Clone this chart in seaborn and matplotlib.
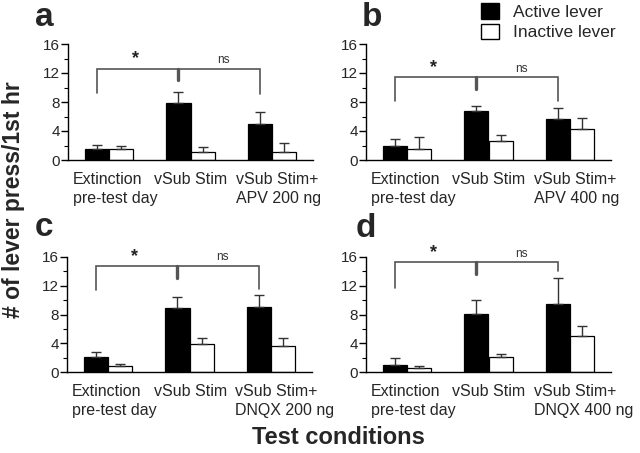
import numpy as np
import pandas as pd
import matplotlib
matplotlib.use('Agg')
import matplotlib.pyplot as plt
import matplotlib.transforms as mtransforms
from matplotlib.patches import Patch
from matplotlib.ticker import MultipleLocator
import seaborn as sns

sns.set_theme(style='ticks')
plt.rcParams['font.family'] = ['Liberation Sans', 'DejaVu Sans']

levers = ['Active lever', 'Inactive lever']

# condition labels per panel
conds_a = ['Extinction\npre-test day', 'vSub Stim', 'vSub Stim+\nAPV 200 ng']
conds_b = ['Extinction\npre-test day', 'vSub Stim', 'vSub Stim+\nAPV 400 ng']
conds_c = ['Extinction\npre-test day', 'vSub Stim', 'vSub Stim+\nDNQX 200 ng']
conds_d = ['Extinction\npre-test day', 'vSub Stim', 'vSub Stim+\nDNQX 400 ng']

# mean lever presses
active_a = [1.5, 7.8, 5.0]
inactive_a = [1.5, 1.15, 1.15]
active_b = [2.0, 6.7, 5.6]
inactive_b = [1.5, 2.6, 4.3]
active_c = [2.1, 8.9, 9.1]
inactive_c = [0.8, 3.9, 3.6]
active_d = [1.0, 8.1, 9.5]
inactive_d = [0.6, 2.1, 5.0]

# SEM (upper bars only)
active_a_err = [0.55, 1.6, 1.6]
inactive_a_err = [0.5, 0.65, 1.2]
active_b_err = [0.9, 0.8, 1.6]
inactive_b_err = [1.7, 0.8, 1.5]
active_c_err = [0.7, 1.6, 1.6]
inactive_c_err = [0.35, 0.9, 1.2]
active_d_err = [0.9, 1.9, 3.6]
inactive_d_err = [0.3, 0.4, 1.4]

# significance brackets: top, left drop, middle drop, right drop
bracket_a = [12.6, 9.2, 11.0, 9.1]
bracket_b = [11.4, 8.2, 9.8, 8.2]
bracket_c = [14.75, 11.4, 13.1, 11.6]
bracket_d = [15.3, 11.7, 13.7, 14.0]

panels = [
    ('a', conds_a, active_a, inactive_a, active_a_err, inactive_a_err, bracket_a,
     [68, 160, 245, 116], (35, 26)),
    ('b', conds_b, active_b, inactive_b, active_b_err, inactive_b_err, bracket_b,
     [366, 160, 245, 116], (362, 26)),
    ('c', conds_c, active_c, inactive_c, active_c_err, inactive_c_err, bracket_c,
     [67, 372, 245, 115], (35, 236)),
    ('d', conds_d, active_d, inactive_d, active_d_err, inactive_d_err, bracket_d,
     [366, 372, 245, 115], (356, 237)),
]

W, H = 640, 453
fig = plt.figure(figsize=(6.4, 4.53), dpi=100)
fig.patch.set_facecolor('white')

line_gray = '#555555'
# tick labels sit left-aligned, starting a little left of each group's centre
label_shift = mtransforms.ScaledTranslation(-36 / 100, 0, fig.dpi_scale_trans)

for letter, conds, act, inact, act_err, inact_err, br, box, lpos in panels:
    x0, y0, w, h = box
    ax = fig.add_axes([x0 / W, 1 - y0 / H, w / W, h / H])
    ax.set_facecolor('white')
    df = pd.DataFrame({
        'condition': conds * 2,
        'lever': [levers[0]] * 3 + [levers[1]] * 3,
        'presses': act + inact,
    })
    sns.barplot(data=df, x='condition', y='presses', hue='lever', order=conds,
                hue_order=levers, palette={levers[0]: 'black', levers[1]: 'white'},
                edgecolor='black', linewidth=0.9, width=0.59, saturation=1,
                errorbar=None, legend=False, ax=ax)

    for cont, errs in zip(ax.containers, [act_err, inact_err]):
        for bar, e in zip(cont, errs):
            xc = bar.get_x() + bar.get_width() / 2
            ax.errorbar(xc, bar.get_height(), yerr=[[0], [e]], fmt='none',
                        ecolor='#333333', elinewidth=1.0, capsize=3.5,
                        capthick=1.0, zorder=1)

    # bracket anchored on active-bar centres
    xs = [b.get_x() + b.get_width() / 2 for b in ax.containers[0]]
    top, dl, dm, dr = br
    ax.plot([xs[0], xs[0], xs[2], xs[2]], [dl, top, top, dr],
            color=line_gray, lw=1.2, solid_joinstyle='miter', clip_on=False)
    ax.plot([xs[1], xs[1]], [top, dm], color=line_gray, lw=2.4, clip_on=False)
    ax.text((xs[0] + xs[1]) / 2 - 0.03, top + 0.15, '*', ha='center',
            va='bottom', fontsize=13, fontweight='bold', color='#222222')
    ax.text((xs[1] + xs[2]) / 2 + 0.05, top + 0.35, 'ns', ha='center',
            va='bottom', fontsize=8.5, color='#333333')

    ax.set_xlim(-0.5, 2.5)
    ax.set_ylim(0, 16)
    ax.yaxis.set_major_locator(MultipleLocator(4))
    ax.yaxis.set_minor_locator(MultipleLocator(2))
    ax.tick_params(axis='y', which='major', length=5, width=1, labelsize=11,
                   pad=1, color='black')
    ax.tick_params(axis='y', which='minor', length=3, width=0.8, color='black')
    ax.tick_params(axis='x', length=0, pad=9, labelsize=11.5)
    for lbl in ax.get_xticklabels():
        lbl.set_multialignment('left')
        lbl.set_horizontalalignment('left')
        lbl.set_linespacing(1.3)
        lbl.set_transform(lbl.get_transform() + label_shift)
    ax.set_xlabel('')
    ax.set_ylabel('')
    sns.despine(ax=ax)
    for s in ['left', 'bottom']:
        ax.spines[s].set_color('black')
        ax.spines[s].set_linewidth(1.0)

    fig.text(lpos[0] / W, 1 - lpos[1] / H, letter, fontsize=24,
             fontweight='bold', ha='left', va='baseline')

handles = [Patch(facecolor='black', edgecolor='black', label=levers[0]),
           Patch(facecolor='white', edgecolor='black', label=levers[1])]
fig.legend(handles=handles, loc='upper left', bbox_to_anchor=(478 / W, 1.0),
           frameon=False, fontsize=12.5, handlelength=1.0, handleheight=1.0,
           handletextpad=0.8, labelspacing=0.2, borderaxespad=0, borderpad=0.2)

fig.text(14 / W, 1 - 200 / H, '# of lever press/1st hr', rotation=90,
         fontsize=16.5, fontweight='bold', ha='center', va='center')
fig.text(338 / W, 1 - 437 / H, 'Test conditions', fontsize=17,
         fontweight='bold', ha='center', va='center')

fig.savefig('out.png', dpi=100, facecolor='white')
